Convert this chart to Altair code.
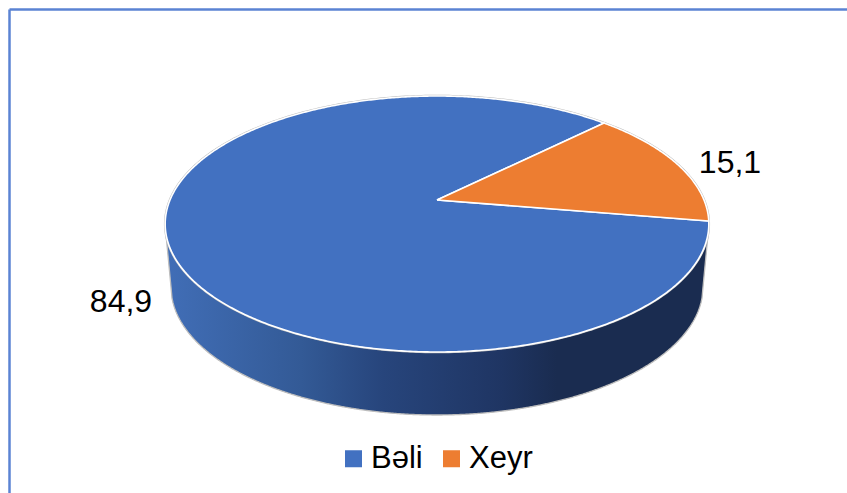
import numpy as np
import pandas as pd
import altair as alt

categories = ["Bəli", "Xeyr"]
values = [84.9, 15.1]
colors = ["#4271C1", "#ED7D31"]
first_slice_deg = 99.5

W, H = 847, 493
# Disc geometry: a circle seen in perspective, with the hub above the ellipse centre.
HUB_X, HUB_Y = 437.0, 200.0
DEPTH_A, DEPTH_B, TILT = 123.5, 267.0, 0.1875
RIM_CX, RIM_CY, RIM_RX, RIM_RY = 437.0, 224.0, 272.0, 128.0
BASE_CX, BASE_CY, BASE_RX, BASE_RY = 437.0, 287.0, 266.0, 128.0
LABEL_POS = [(121, 302), (730, 163)]


def project(clock_deg):
    """Map clockwise-from-top angles on the unit disc to drawing coordinates."""
    t = np.radians(clock_deg)
    cx, cy = np.sin(t), -np.cos(t)
    w = 1 - TILT * cy
    return HUB_X + DEPTH_B * cx / w, HUB_Y + DEPTH_A * cy / w


def wedge(name, start, sweep):
    angles = np.linspace(start, start + sweep, max(int(sweep * 2), 2))
    xs, ys = project(angles)
    xs = np.r_[HUB_X, xs, HUB_X]
    ys = np.r_[HUB_Y, ys, HUB_Y]
    return pd.DataFrame({"cat": name, "px": xs, "py": ys, "i": np.arange(len(xs))})


frames, start = [], first_slice_deg
for name, v in zip(categories, values):
    sweep = v / sum(values) * 360
    frames.append(wedge(name, start, sweep))
    start += sweep
slices = pd.concat(frames, ignore_index=True)

# Side wall: between the front half of the rim and the lower ellipse.
sx = np.linspace(RIM_CX - RIM_RX, RIM_CX + RIM_RX, 545)
rim_low = RIM_CY + RIM_RY * np.sqrt(np.clip(1 - ((sx - RIM_CX) / RIM_RX) ** 2, 0, 1))
inside = np.abs(sx - BASE_CX) <= BASE_RX
flank = RIM_CY + (BASE_CY - RIM_CY) * (RIM_RX - np.abs(sx - RIM_CX)) / (RIM_RX - BASE_RX)
base_low = np.where(
    inside,
    BASE_CY + BASE_RY * np.sqrt(np.clip(1 - ((sx - BASE_CX) / BASE_RX) ** 2, 0, 1)),
    np.maximum(flank, rim_low),
)
wall = pd.DataFrame({"px": sx, "top": rim_low, "bot": base_low})

xs = alt.Scale(domain=[0, W], nice=False, zero=False)
ys = alt.Scale(domain=[0, H], nice=False, zero=False, reverse=True)
X = alt.X("px:Q", scale=xs, axis=None)
Y = alt.Y("py:Q", scale=ys, axis=None)

wall_fill = alt.Gradient(
    gradient="linear", x1=0, x2=1, y1=0, y2=0,
    stops=[
        alt.GradientStop(offset=0.0, color="#416EB7"),
        alt.GradientStop(offset=0.25, color="#335A96"),
        alt.GradientStop(offset=0.40, color="#27457C"),
        alt.GradientStop(offset=0.62, color="#1F3563"),
        alt.GradientStop(offset=0.72, color="#1A2C50"),
        alt.GradientStop(offset=1.0, color="#1A2C50"),
    ],
)
side = alt.Chart(wall).mark_area(fill=wall_fill).encode(
    x=X, y=alt.Y("bot:Q", scale=ys, axis=None), y2="top:Q"
)
side_edge = alt.Chart(wall).mark_line(color="#BDBDBD", strokeWidth=1.3).encode(
    x=X, y=alt.Y("bot:Q", scale=ys, axis=None)
)

rim_t = np.linspace(0, 360, 361)
rim_x, rim_y = project(rim_t)
rim = alt.Chart(pd.DataFrame({"px": rim_x, "py": rim_y, "i": rim_t})).mark_line(
    color="#BDBDBD", strokeWidth=2.5
).encode(x=X, y=Y, order="i:Q")

pie = alt.Chart(slices).mark_line(
    filled=True, stroke="white", strokeWidth=1.6, strokeJoin="round"
).encode(
    x=X, y=Y, order="i:Q",
    fill=alt.Fill(
        "cat:N",
        scale=alt.Scale(domain=categories, range=colors),
        sort=categories,
        legend=alt.Legend(
            title=None, orient="none", legendX=338, legendY=443,
            direction="horizontal", symbolType="square", symbolSize=289,
            symbolStrokeWidth=0, labelFont="Liberation Sans", labelFontSize=31,
            labelColor="#000000", labelLimit=200, columnPadding=13,
            labelOffset=2, symbolOffset=0,
        ),
    ),
)

labels = pd.DataFrame({
    "px": [p[0] for p in LABEL_POS],
    "py": [p[1] for p in LABEL_POS],
    "txt": [f"{v:.1f}".replace(".", ",") for v in values],
})
text = alt.Chart(labels).mark_text(
    font="Liberation Sans", fontSize=32, color="#000000", align="center", baseline="middle"
).encode(x=X, y=Y, text="txt:N")

frame_line = dict(color="#5B83D3", strokeWidth=2.5)
frame_top = alt.Chart(pd.DataFrame({"a": [9.5], "b": [W], "c": [9.5]})).mark_rule(**frame_line).encode(
    x=alt.X("a:Q", scale=xs, axis=None), x2="b:Q", y=alt.Y("c:Q", scale=ys, axis=None)
)
frame_left = alt.Chart(pd.DataFrame({"a": [9.5], "c": [9.5], "d": [H]})).mark_rule(**frame_line).encode(
    x=alt.X("a:Q", scale=xs, axis=None), y=alt.Y("c:Q", scale=ys, axis=None), y2="d:Q"
)

chart = alt.layer(frame_top, frame_left, side, side_edge, rim, pie, text).properties(
    width=W, height=H, padding=0, autosize=alt.AutoSizeParams(type="none"),
    background="white",
).configure_view(stroke=None)

chart.save("out.html", embed_options={"renderer": "svg", "actions": False})
